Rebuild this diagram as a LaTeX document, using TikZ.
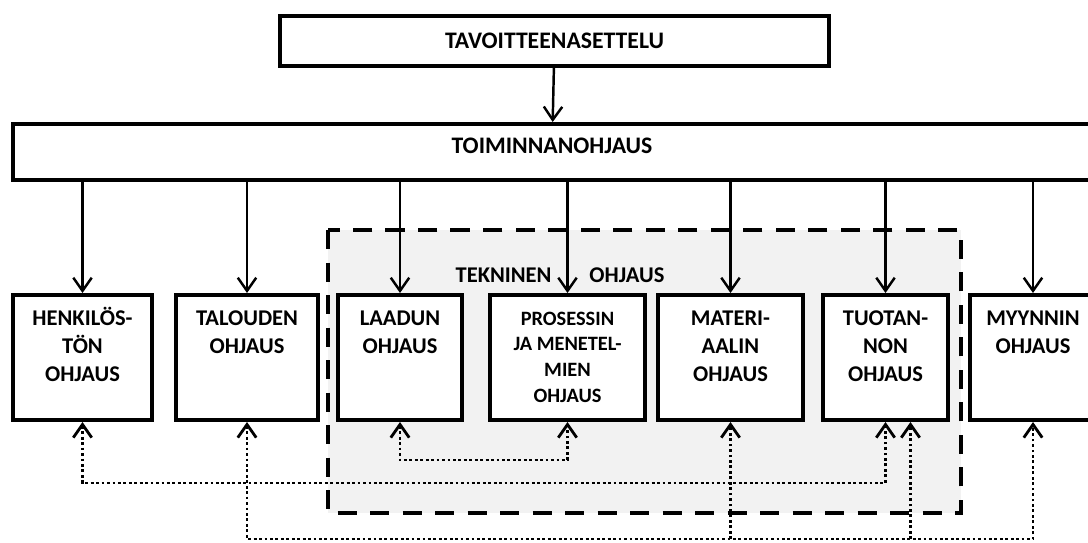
\documentclass[tikz,border=0pt]{standalone}
\usepackage{fontspec}
\setmainfont{Carlito}
\usetikzlibrary{arrows.meta}

\newcommand{\boxlines}[1]{\parbox[c][2.3cm][t]{2.25cm}{\centering\rule{0pt}{0.5cm}#1}}

\begin{document}
\begin{tikzpicture}[x=0.02cm, y=-0.02cm,
  head/.style={draw, line width=2.3pt, fill=white, inner sep=0pt,
    font=\fontsize{13.5}{16}\selectfont\bfseries},
  box/.style={draw, line width=2.3pt, fill=white, inner sep=0.1cm,
    minimum height=2.5cm, font=\fontsize{12.8}{16.1}\selectfont\bfseries},
  link/.style={-{Straight Barb[length=7.5pt,width=10.5pt]}, line width=1.4pt},
  back/.style={{Straight Barb[length=7.5pt,width=10.5pt]}-{Straight Barb[length=7.5pt,width=10.5pt]},
    line width=1.6pt, dash pattern=on 1.6pt off 1.5pt},
  feed/.style={-{Straight Barb[length=7.5pt,width=10.5pt]},
    line width=1.6pt, dash pattern=on 1.6pt off 1.5pt}]
  \useasboundingbox (0,0) rectangle (1088,542);

  % technical area
  \draw[line width=2.3pt, fill=gray!10, dash pattern=on 11pt off 7.5pt]
    (328,230) rectangle (961,513);
  \node[font=\fontsize{12.8}{16}\selectfont\bfseries] (TEK) at (560,275)
    {TEKNINEN\hspace{0.76cm}OHJAUS};

  \node[head, minimum width=10.98cm, minimum height=1cm] (TAV) at (554.5,41) {TAVOITTEENASETTELU};
  \node[head, minimum width=21.56cm, minimum height=1.12cm, text depth=0.24cm] (TOIM) at (552,152) {TOIMINNANOHJAUS};

  \node[box, minimum width=2.78cm] (HENK) at (82.5,357.5) {\boxlines{HENKILÖS-\\TÖN\\OHJAUS}};
  \node[box, minimum width=2.84cm] (TAL) at (247,357.5) {\boxlines{TALOUDEN\\OHJAUS}};
  \node[box, minimum width=2.48cm] (LAAD) at (400,357.5) {\boxlines{LAADUN\\OHJAUS}};
  \node[box, minimum width=3.1cm, font=\fontsize{11.6}{14.7}\selectfont\bfseries] (PROS) at (567.5,357.5)
    {\boxlines{PROSESSIN\\JA MENETEL-\\MIEN\\OHJAUS}};
  \node[box, minimum width=2.9cm] (MAT) at (730.5,357.5) {\boxlines{MATERI-\\AALIN\\OHJAUS}};
  \node[box, minimum width=2.5cm] (TUOT) at (885.5,357.5) {\boxlines{TUOTAN-\\NON\\OHJAUS}};
  \node[box, minimum width=2.52cm] (MYY) at (1033,357.5) {\boxlines{MYYNNIN\\OHJAUS}};

  \coordinate (TUOT2) at ([xshift=0.5cm]TUOT.south);
  \coordinate (laneA) at (0,483);
  \coordinate (laneB) at (0,460);
  \coordinate (laneC) at (0,539);

  \draw[link] (TAV) -- (TOIM);
  \foreach \n in {HENK,TAL,LAAD,PROS,MAT,TUOT,MYY}
    \draw[link] (TOIM.south -| \n.north) -- (\n.north);

  % feedback
  \draw[back] (HENK.south) -- (HENK.south |- laneA) -- (TUOT.south |- laneA) -- (TUOT.south);
  \draw[back] (LAAD.south) -- (LAAD.south |- laneB) -- (PROS.south |- laneB) -- (PROS.south);
  \draw[back] (TAL.south) -- (TAL.south |- laneC) -- (MYY.south |- laneC) -- (MYY.south);
  \draw[feed] (MAT.south |- laneC) -- (MAT.south);
  \draw[feed] (TUOT2 |- laneC) -- (TUOT2);
\end{tikzpicture}
\end{document}
